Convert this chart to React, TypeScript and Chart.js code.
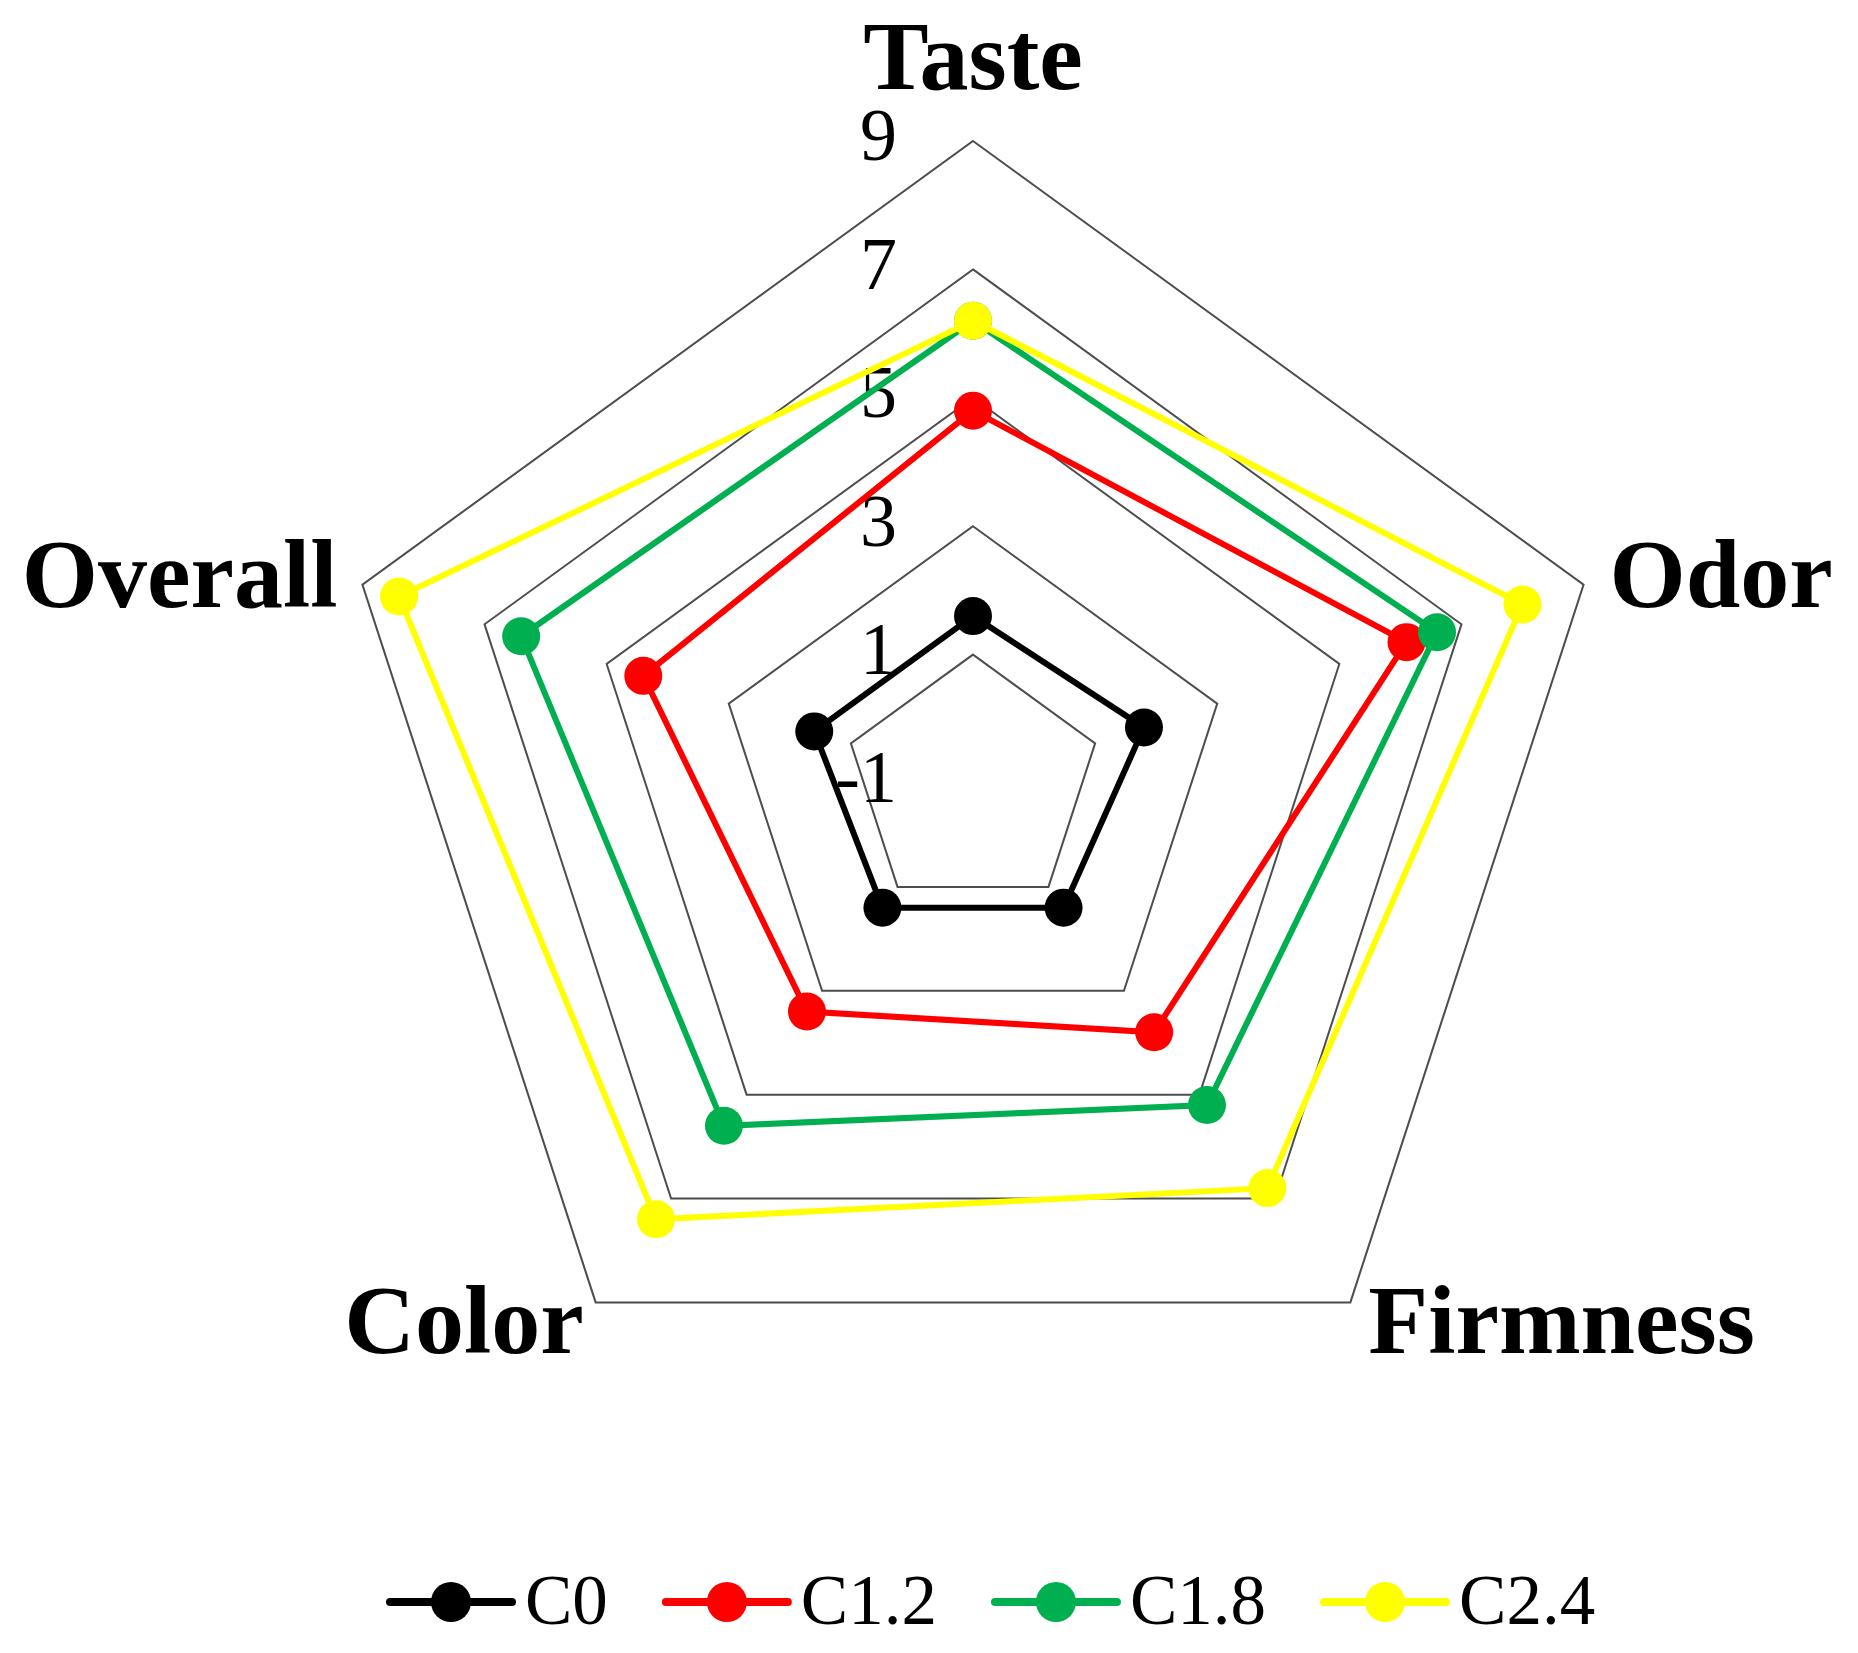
import React, { useEffect, useRef } from "react";
import { Chart, registerables } from "chart.js";

Chart.register(...registerables);

// ---- data ----
const CATEGORIES = ["Taste", "Odor", "Firmness", "Color", "Overall"];
const SERIES_NAMES = ["C0", "C1.2", "C1.8", "C2.4"];
const C0_VALUES = [1.6, 1.8, 1.4, 1.4, 1.6];
const C12_VALUES = [4.8, 6.1, 3.8, 3.4, 4.4];
const C18_VALUES = [6.2, 6.6, 5.2, 5.6, 6.4];
const C24_VALUES = [6.2, 8.0, 6.8, 7.4, 8.4];
const SCALE_MIN = -1;
const SCALE_MAX = 9;
const SCALE_STEP = 2;

const SERIES_COLORS = ["#000000", "#FF0000", "#00B050", "#FFFF00"];

const W = 1858;
const H = 1653;

const SERIF = "'Liberation Serif', 'Times New Roman', serif";

// per-axis offsets of the category labels from the outer vertex
const POINT_LABEL_LAYOUT = [
  { dx: 0, dy: -52, align: "center" },
  { dx: 26, dy: 22, align: "left" },
  { dx: 18, dy: 51, align: "left" },
  { dx: -12, dy: 51, align: "right" },
  { dx: -25, dy: 22, align: "right" },
];

const customDraw = {
  id: "customDraw",
  beforeDatasetsDraw(chart: any) {
    const s = chart.scales.r;
    const ctx = chart.ctx;
    ctx.save();
    ctx.font = `74px ${SERIF}`;
    ctx.fillStyle = "#000";
    ctx.textAlign = "right";
    ctx.textBaseline = "middle";
    s.ticks.forEach((t: any) => {
      const r = s.getDistanceFromCenterForValue(t.value);
      const label = t.label !== undefined ? String(t.label) : String(t.value);
      ctx.fillText(label, s.xCenter - 76, s.yCenter - r);
    });
    ctx.restore();
  },
  afterDraw(chart: any) {
    const s = chart.scales.r;
    const ctx = chart.ctx;
    ctx.save();
    // category labels
    ctx.font = `bold 98px ${SERIF}`;
    ctx.fillStyle = "#000";
    ctx.textBaseline = "alphabetic";
    (chart.data.labels as string[]).forEach((lab, i) => {
      const p = s.getPointPosition(i, s.drawingArea);
      const L = POINT_LABEL_LAYOUT[i];
      ctx.textAlign = L.align;
      ctx.fillText(lab, p.x + L.dx, p.y + L.dy);
    });

    // legend
    ctx.font = `71px ${SERIF}`;
    ctx.textAlign = "left";
    ctx.textBaseline = "alphabetic";
    const lineLen = 130;
    const gapText = 9;
    const gapItem = 54;
    const yMid = 1602;
    let x = 386;
    chart.data.datasets.forEach((ds: any) => {
      const color = ds.borderColor;
      ctx.strokeStyle = color;
      ctx.lineWidth = 8;
      ctx.lineCap = "round";
      ctx.beginPath();
      ctx.moveTo(x + 4, yMid);
      ctx.lineTo(x + lineLen - 4, yMid);
      ctx.stroke();
      ctx.fillStyle = color;
      ctx.beginPath();
      ctx.arc(x + lineLen / 2, yMid, 20, 0, Math.PI * 2);
      ctx.fill();
      ctx.fillStyle = "#000";
      const tx = x + lineLen + gapText;
      ctx.fillText(ds.label, tx, yMid + 22);
      x = tx + ctx.measureText(ds.label).width + gapItem;
    });
    ctx.restore();
  },
};

export default function App() {
  const canvasRef = useRef<HTMLCanvasElement | null>(null);

  useEffect(() => {
    document.body.style.margin = "0";
    const canvas = canvasRef.current;
    if (!canvas) return;
    const seriesValues = [C0_VALUES, C12_VALUES, C18_VALUES, C24_VALUES];
    const chart = new Chart(canvas, {
      type: "radar",
      data: {
        labels: CATEGORIES,
        datasets: SERIES_NAMES.map((name, i) => ({
          label: name,
          data: seriesValues[i],
          borderColor: SERIES_COLORS[i],
          backgroundColor: SERIES_COLORS[i],
          pointBackgroundColor: SERIES_COLORS[i],
          pointBorderColor: SERIES_COLORS[i],
          pointBorderWidth: 0,
          pointRadius: 19,
          borderWidth: 6,
          fill: false,
          tension: 0,
          order: SERIES_NAMES.length - 1 - i,
        })),
      },
      options: {
        responsive: false,
        animation: false,
        devicePixelRatio: 1,
        layout: { padding: { left: 331, right: 243, top: 141, bottom: 228 } },
        plugins: {
          legend: { display: false },
          tooltip: { enabled: false },
          title: { display: false },
        },
        scales: {
          r: {
            min: SCALE_MIN,
            max: SCALE_MAX,
            beginAtZero: false,
            ticks: { stepSize: SCALE_STEP, display: false },
            grid: { color: "#4d4d4d", lineWidth: 2 },
            angleLines: { display: false },
            pointLabels: { display: false },
          },
        },
      },
      plugins: [customDraw],
    } as any);
    return () => chart.destroy();
  }, []);

  return (
    <canvas
      ref={canvasRef}
      width={W}
      height={H}
      style={{ display: "block", width: W, height: H }}
    />
  );
}
